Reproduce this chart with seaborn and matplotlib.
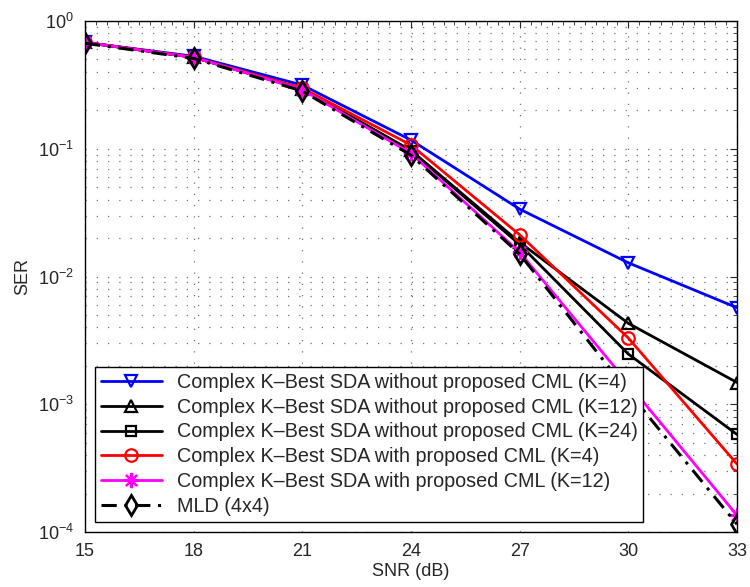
import matplotlib
matplotlib.use("Agg")
import matplotlib.pyplot as plt
import seaborn as sns
import numpy as np
import pandas as pd
from matplotlib.ticker import LogLocator, MultipleLocator, NullFormatter

snr = [15, 18, 21, 24, 27, 30, 33]
ser_k4_without = [0.68, 0.53, 0.315, 0.117, 0.0337, 0.0128, 0.0057]
ser_k12_without = [0.68, 0.52, 0.295, 0.097, 0.0185, 0.0043, 0.00148]
ser_k24_without = [0.68, 0.52, 0.293, 0.096, 0.0178, 0.00247, 0.00058]
ser_k4_with = [0.68, 0.52, 0.298, 0.107, 0.0212, 0.0033, 0.00034]
ser_k12_with = [0.68, 0.52, 0.29, 0.092, 0.0155, 0.00145, 0.000135]
ser_mld = [0.67, 0.51, 0.283, 0.089, 0.0150, 0.00125, 0.000115]

labels = [
    "Complex K\u2013Best SDA without proposed CML (K=4)",
    "Complex K\u2013Best SDA without proposed CML (K=12)",
    "Complex K\u2013Best SDA without proposed CML (K=24)",
    "Complex K\u2013Best SDA with proposed CML (K=4)",
    "Complex K\u2013Best SDA with proposed CML (K=12)",
    "MLD (4x4)",
]
series = [ser_k4_without, ser_k12_without, ser_k24_without, ser_k4_with, ser_k12_with, ser_mld]

sns.set_style("white")
plt.rcParams['font.family'] = ['Liberation Sans', 'DejaVu Sans']
plt.rcParams['mathtext.fontset'] = 'custom'
plt.rcParams['mathtext.rm'] = 'Liberation Sans'
plt.rcParams['mathtext.it'] = 'Liberation Sans'

fig = plt.figure(figsize=(7.5, 5.87), dpi=100)
ax = fig.add_axes([0.1133, 0.0937, 0.8694, 0.8705])

styles = [
    dict(color="#0000ff", marker="v", ls="-", ms=9, mew=1.6, lw=2.0),
    dict(color="black", marker="^", ls="-", ms=9, mew=1.6, lw=2.0),
    dict(color="black", marker="s", ls="-", ms=7, mew=1.6, lw=2.0),
    dict(color="#ff0000", marker="o", ls="-", ms=9, mew=1.6, lw=2.0),
    dict(color="#ff00ff", marker=(8, 2, 0), ls="-", ms=11, mew=1.6, lw=2.0),
    dict(color="black", marker="d", ls=(0, (5, 2.5, 1, 2.5)), ms=10, mew=2.0, lw=2.2),
]

for lab, vals, st in zip(labels, series, styles):
    df = pd.DataFrame({"snr": snr, "ser": vals})
    sns.lineplot(data=df, x="snr", y="ser", ax=ax, label=lab, color=st["color"],
                 marker=st["marker"], linestyle=st["ls"], markersize=st["ms"],
                 markerfacecolor="none", markeredgecolor=st["color"],
                 markeredgewidth=st["mew"], linewidth=st["lw"], sort=False)

ax.set_yscale("log")
ax.set_xlim(15, 33)
ax.set_ylim(1e-4, 1)
ax.set_xticks(snr)
ax.xaxis.set_minor_locator(MultipleLocator(0.3))
ax.yaxis.set_major_locator(LogLocator(base=10, numticks=10))
ax.yaxis.set_minor_locator(LogLocator(base=10, subs=np.arange(2, 10), numticks=100))
ax.yaxis.set_minor_formatter(NullFormatter())

gridstyle = dict(color="#444444", linestyle=(0, (1, 8)), linewidth=0.9, alpha=0.75)
ax.grid(True, which="major", axis="both", **gridstyle)
ax.grid(True, which="minor", axis="y", **gridstyle)

ax.tick_params(which="both", direction="in", top=True, right=True, labelsize=13, pad=8)
ax.tick_params(which="major", length=5)
ax.tick_params(which="minor", length=3)
for sp in ax.spines.values():
    sp.set_color("black")
    sp.set_linewidth(1.0)

ax.set_xlabel("SNR (dB)", fontsize=13, labelpad=2)
ax.set_ylabel("SER", fontsize=13, labelpad=5)

leg = ax.legend(loc="lower left", bbox_to_anchor=(0.0, 0.0), fontsize=14.2, frameon=True,
                fancybox=False, edgecolor="black", framealpha=1, handlelength=3.1,
                borderpad=0.3, labelspacing=0.3, handletextpad=0.75, borderaxespad=0.5)
leg.get_frame().set_linewidth(1.0)

fig.savefig("out.png", dpi=100)
